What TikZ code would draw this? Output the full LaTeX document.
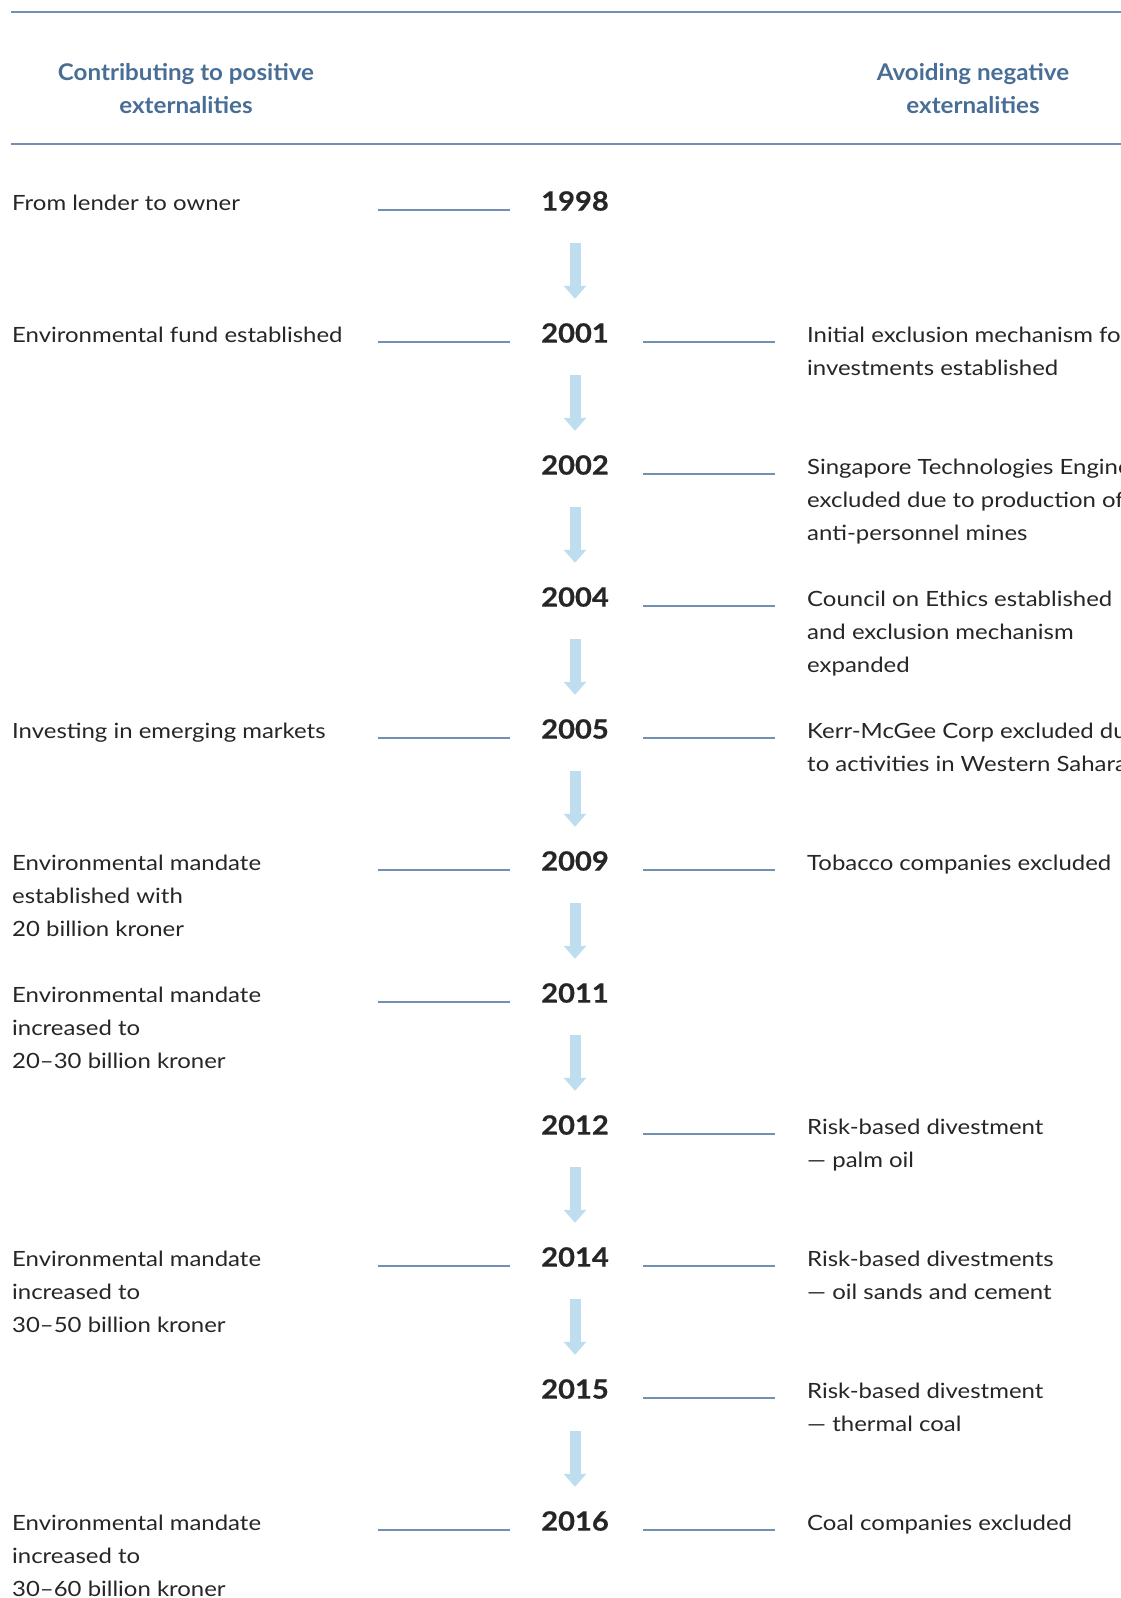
\documentclass[tikz,border=0pt]{standalone}
\usepackage{fontspec}
\setmainfont{Lato}
\newfontfamily\bodyfont[FakeStretch=1.14]{Lato}
\newfontfamily\yearfont[FakeStretch=1.1, BoldFeatures={FakeBold=0.6}]{Lato}
\newfontfamily\headfont[FakeStretch=1.05]{Lato}
\usetikzlibrary{arrows.meta}

\definecolor{headblue}{RGB}{72,110,150}
\definecolor{ruleblue}{RGB}{112,145,180}
\definecolor{arrowblue}{RGB}{190,222,240}
\definecolor{textgray}{RGB}{38,38,38}

\tikzset{
  headtext/.style={font=\headfont\bfseries\fontsize{23}{33}\selectfont, text=headblue, align=center, inner sep=0pt},
  yearnode/.style={font=\yearfont\bfseries\fontsize{26.5}{30}\selectfont, text=textgray, minimum width=80pt, minimum height=40pt, inner sep=0pt},
  eventtext/.style={font=\bodyfont\fontsize{21}{33}\selectfont, text=textgray, anchor=north west, align=left, inner sep=0pt},
  linkline/.style={draw=ruleblue, line width=1.3pt},
  yeararrow/.style={draw=arrowblue, line width=11pt, -{Triangle[width=22pt,length=13pt]}, shorten <=22pt, shorten >=14pt}
}

\begin{document}
\begin{tikzpicture}[x=1pt,y=-1pt]
  \useasboundingbox (0,0) rectangle (1121,1598);
  \clip (0,0) rectangle (1121,1598);
  % titles
  \draw[ruleblue, line width=1.4pt] (11,12) -- (1121,12);
  \draw[ruleblue, line width=1.4pt] (11,144) -- (1121,144);
  \node[headtext] at(186,86)(headpos){\strut Contributing to positive\\externalities};
  \node[headtext] at(973,86)(headneg){\strut Avoiding negative\\externalities};
  % years
  \node[yearnode] at(575,201)(yr1998){1998};
  \node[yearnode] at(575,333)(yr2001){2001};
  \node[yearnode] at(575,465)(yr2002){2002};
  \node[yearnode] at(575,597)(yr2004){2004};
  \node[yearnode] at(575,729)(yr2005){2005};
  \node[yearnode] at(575,861)(yr2009){2009};
  \node[yearnode] at(575,993)(yr2011){2011};
  \node[yearnode] at(575,1125)(yr2012){2012};
  \node[yearnode] at(575,1257)(yr2014){2014};
  \node[yearnode] at(575,1389)(yr2015){2015};
  \node[yearnode] at(575,1521)(yr2016){2016};
  % arrows
  \draw[yeararrow] (yr1998) -- (yr2001);
  \draw[yeararrow] (yr2001) -- (yr2002);
  \draw[yeararrow] (yr2002) -- (yr2004);
  \draw[yeararrow] (yr2004) -- (yr2005);
  \draw[yeararrow] (yr2005) -- (yr2009);
  \draw[yeararrow] (yr2009) -- (yr2011);
  \draw[yeararrow] (yr2011) -- (yr2012);
  \draw[yeararrow] (yr2012) -- (yr2014);
  \draw[yeararrow] (yr2014) -- (yr2015);
  \draw[yeararrow] (yr2015) -- (yr2016);
  % positive externalities
  \node[eventtext] at(12,187)(pos1998){\strut From lender to owner};
  \node[eventtext] at(12,319)(pos2001){\strut Environmental fund established};
  \node[eventtext] at(12,715)(pos2005){\strut Investing in emerging markets};
  \node[eventtext] at(12,847)(pos2009){\strut Environmental mandate\\established with\\20 billion kroner};
  \node[eventtext] at(12,979)(pos2011){\strut Environmental mandate\\increased to\\20–30 billion kroner};
  \node[eventtext] at(12,1243)(pos2014){\strut Environmental mandate\\increased to\\30–50 billion kroner};
  \node[eventtext] at(12,1507)(pos2016){\strut Environmental mandate\\increased to\\30–60 billion kroner};
  % left links
  \draw[linkline] ([shift={(-157,9)}]yr1998.west) -- ([shift={(-25,9)}]yr1998.west);
  \draw[linkline] ([shift={(-157,9)}]yr2001.west) -- ([shift={(-25,9)}]yr2001.west);
  \draw[linkline] ([shift={(-157,9)}]yr2005.west) -- ([shift={(-25,9)}]yr2005.west);
  \draw[linkline] ([shift={(-157,9)}]yr2009.west) -- ([shift={(-25,9)}]yr2009.west);
  \draw[linkline] ([shift={(-157,9)}]yr2011.west) -- ([shift={(-25,9)}]yr2011.west);
  \draw[linkline] ([shift={(-157,9)}]yr2014.west) -- ([shift={(-25,9)}]yr2014.west);
  \draw[linkline] ([shift={(-157,9)}]yr2016.west) -- ([shift={(-25,9)}]yr2016.west);
  % negative externalities
  \node[eventtext] at(807,319)(neg2001){\strut Initial exclusion mechanism for\\investments established};
  \node[eventtext] at(807,451)(neg2002){\strut Singapore Technologies Engineering\\excluded due to production of\\anti-personnel mines};
  \node[eventtext] at(807,583)(neg2004){\strut Council on Ethics established\\and exclusion mechanism\\expanded};
  \node[eventtext] at(807,715)(neg2005){\strut Kerr-McGee Corp excluded due\\to activities in Western Sahara};
  \node[eventtext] at(807,847)(neg2009){\strut Tobacco companies excluded};
  \node[eventtext] at(807,1111)(neg2012){\strut Risk-based divestment\\— palm oil};
  \node[eventtext] at(807,1243)(neg2014){\strut Risk-based divestments\\— oil sands and cement};
  \node[eventtext] at(807,1375)(neg2015){\strut Risk-based divestment\\— thermal coal};
  \node[eventtext] at(807,1507)(neg2016){\strut Coal companies excluded};
  % right links
  \draw[linkline] ([shift={(28,9)}]yr2001.east) -- ([shift={(160,9)}]yr2001.east);
  \draw[linkline] ([shift={(28,9)}]yr2002.east) -- ([shift={(160,9)}]yr2002.east);
  \draw[linkline] ([shift={(28,9)}]yr2004.east) -- ([shift={(160,9)}]yr2004.east);
  \draw[linkline] ([shift={(28,9)}]yr2005.east) -- ([shift={(160,9)}]yr2005.east);
  \draw[linkline] ([shift={(28,9)}]yr2009.east) -- ([shift={(160,9)}]yr2009.east);
  \draw[linkline] ([shift={(28,9)}]yr2012.east) -- ([shift={(160,9)}]yr2012.east);
  \draw[linkline] ([shift={(28,9)}]yr2014.east) -- ([shift={(160,9)}]yr2014.east);
  \draw[linkline] ([shift={(28,9)}]yr2015.east) -- ([shift={(160,9)}]yr2015.east);
  \draw[linkline] ([shift={(28,9)}]yr2016.east) -- ([shift={(160,9)}]yr2016.east);
\end{tikzpicture}
\end{document}
